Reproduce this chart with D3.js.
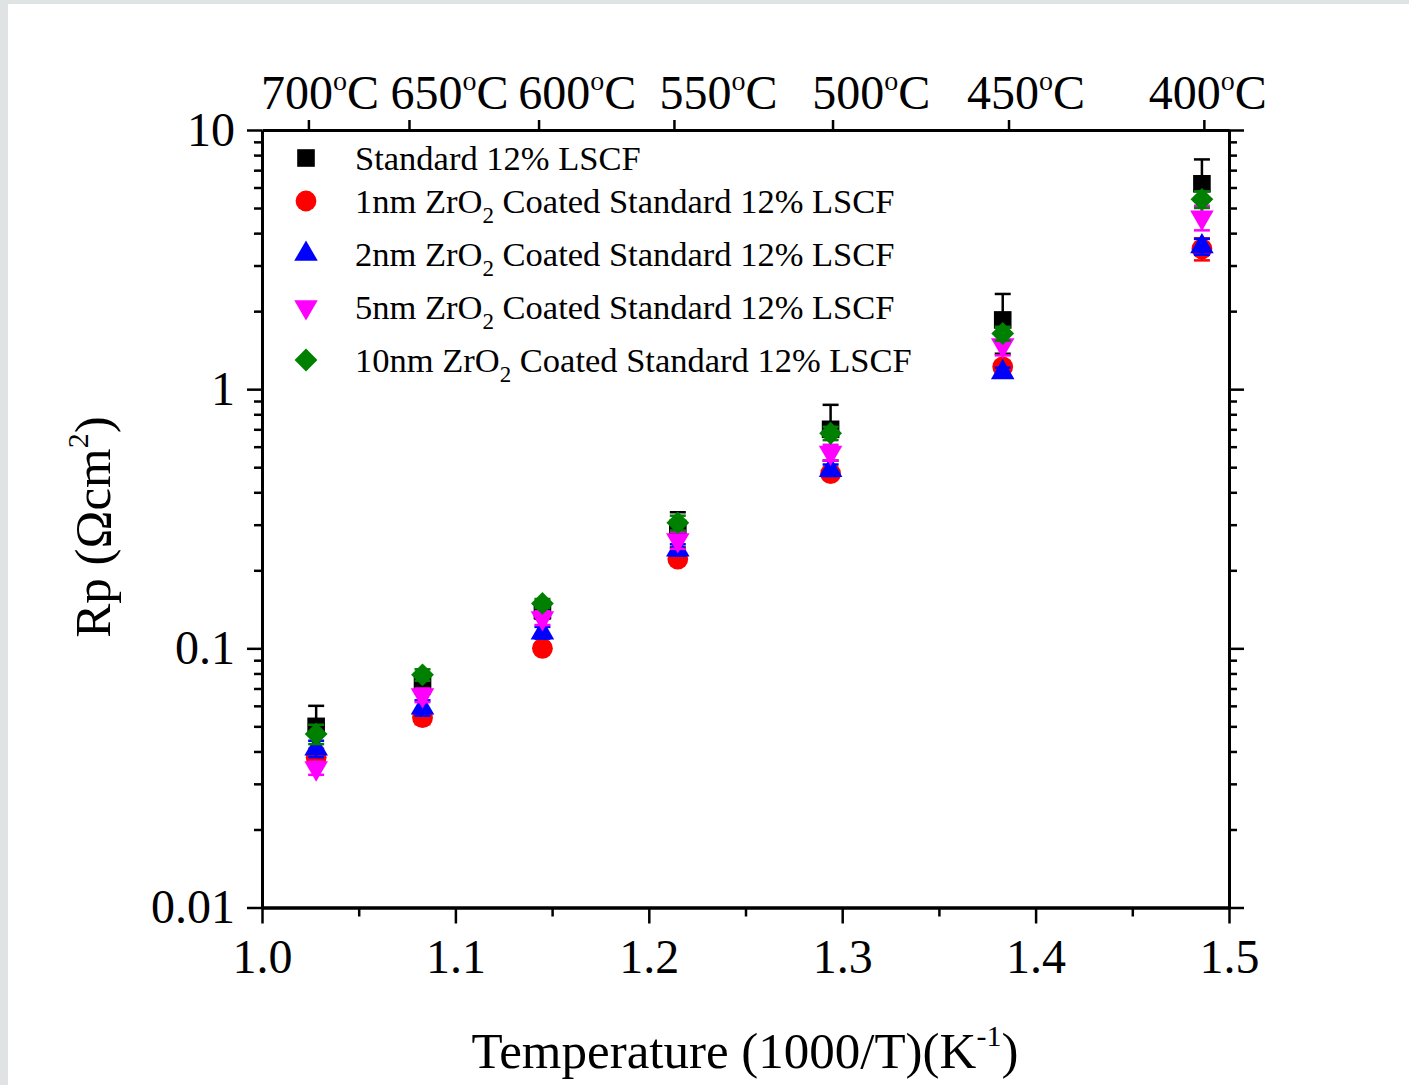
<!DOCTYPE html>
<html lang="en">
<head>
    <meta charset="UTF-8">
    <title>Rp vs temperature</title>
    <script src="https://cdn.jsdelivr.net/npm/d3@7"></script>
    <style>
        body {
            margin: 0;
            background: #dfe3e3;
        }

        svg {
            display: block;
        }

        text {
            font-family: "Liberation Serif", "Times New Roman", serif;
            fill: #000;
        }

        .axis path, .axis line {
            stroke: #000;
        }

        .axis path {
            stroke-width: 3px;
        }

        .axis line {
            stroke-width: 2.5px;
        }

        .axis text {
            font-family: "Liberation Serif", serif;
            font-size: 48px;
        }
    </style>
</head>
<body>
<svg width="1409" height="1085"></svg>

<script>
    // temperatures and their 1000/T positions
    var temps = [700, 650, 600, 550, 500, 450, 400];
    var invT = [1.028, 1.083, 1.145, 1.215, 1.294, 1.383, 1.486];

    // top axis: tick positions and label positions (1000/T units) as drawn in the figure
    var topTicks = [1.024, 1.076, 1.143, 1.213, 1.295, 1.386, 1.487];
    var topLabelAt = [1.030, 1.097, 1.163, 1.236, 1.315, 1.395, 1.489];

    var xTicks = [1.0, 1.1, 1.2, 1.3, 1.4, 1.5];
    var xMinor = [1.05, 1.15, 1.25, 1.35, 1.45];
    var yTicks = [0.01, 0.1, 1, 10];
    var yTickLabels = ['0.01', '0.1', '1', '10'];

    // Rp (ohm cm2) and error per series
    var standard = [0.050, 0.073, 0.140, 0.290, 0.700, 1.85, 6.2];
    var standardErr = [0.010, 0.006, 0.010, 0.045, 0.170, 0.48, 1.5];
    var zr1 = [0.038, 0.054, 0.100, 0.221, 0.472, 1.22, 3.48];
    var zr1Err = [0.003, 0.003, 0.004, 0.008, 0.020, 0.06, 0.34];
    var zr2 = [0.041, 0.059, 0.115, 0.240, 0.487, 1.16, 3.55];
    var zr2Err = [0.003, 0.004, 0.006, 0.012, 0.025, 0.05, 0.25];
    var zr5 = [0.0345, 0.066, 0.131, 0.262, 0.570, 1.48, 4.6];
    var zr5Err = [0.002, 0.004, 0.008, 0.020, 0.040, 0.13, 0.5];
    var zr10 = [0.0467, 0.079, 0.149, 0.305, 0.676, 1.64, 5.4];
    var zr10Err = [0.004, 0.004, 0.006, 0.020, 0.040, 0.10, 0.4];

    var seriesNames = [
        ['Standard 12% LSCF'],
        ['1nm ZrO', '2', ' Coated Standard 12% LSCF'],
        ['2nm ZrO', '2', ' Coated Standard 12% LSCF'],
        ['5nm ZrO', '2', ' Coated Standard 12% LSCF'],
        ['10nm ZrO', '2', ' Coated Standard 12% LSCF']
    ];
    var seriesColors = ['#000000', '#ff0000', '#0000ff', '#ff00ff', '#008000'];

    var series = [
        {values: standard, err: standardErr, shape: 'square'},
        {values: zr1, err: zr1Err, shape: 'circle'},
        {values: zr2, err: zr2Err, shape: 'up'},
        {values: zr5, err: zr5Err, shape: 'down'},
        {values: zr10, err: zr10Err, shape: 'diamond'}
    ];

    var svg = d3.select('svg');

    // page: white sheet with a grey strip on the left and top
    svg.append('rect')
        .attr('x', 8).attr('y', 4)
        .attr('width', 1401).attr('height', 1081)
        .attr('fill', '#ffffff');

    var plotLeft = 262, plotRight = 1229, plotTop = 130, plotBottom = 907.5;

    var x = d3.scaleLinear().domain([1.0, 1.5]).range([plotLeft, plotRight]);
    var y = d3.scaleLog().domain([0.01, 10]).range([plotBottom, plotTop]);

    var yMinor = [];
    [0.01, 0.1, 1].forEach(function (d) {
        for (var k = 2; k <= 9; k++) {
            yMinor.push(d * k);
        }
    });

    function noLabel() {
        return '';
    }

    // bottom axis
    svg.append('g').attr('class', 'axis')
        .attr('transform', 'translate(0,' + plotBottom + ')')
        .call(d3.axisBottom(x).tickValues(xMinor).tickSize(9).tickSizeOuter(0).tickFormat(noLabel));
    svg.append('g').attr('class', 'axis')
        .attr('transform', 'translate(0,' + plotBottom + ')')
        .call(d3.axisBottom(x).tickValues(xTicks).tickSize(16).tickSizeOuter(0).tickPadding(15)
            .tickFormat(d3.format('.1f')));

    // top axis (temperature)
    svg.append('g').attr('class', 'axis')
        .attr('transform', 'translate(0,' + plotTop + ')')
        .call(d3.axisTop(x).tickValues(topTicks).tickSize(10).tickSizeOuter(0).tickFormat(noLabel));

    var topLabels = svg.append('g')
        .selectAll('text')
        .data(temps)
        .enter()
        .append('text')
        .attr('x', function (d, i) {
            return x(topLabelAt[i]);
        })
        .attr('y', 109)
        .attr('text-anchor', 'middle')
        .style('font-size', '48px');
    topLabels.append('tspan').text(function (d) {
        return d;
    });
    topLabels.append('tspan').attr('dy', -19).style('font-size', '28px').text('o');
    topLabels.append('tspan').attr('dy', 19).text('C');

    // left axis
    svg.append('g').attr('class', 'axis')
        .attr('transform', 'translate(' + plotLeft + ',0)')
        .call(d3.axisLeft(y).tickValues(yMinor).tickSize(8).tickSizeOuter(0).tickFormat(noLabel));
    svg.append('g').attr('class', 'axis')
        .attr('transform', 'translate(' + plotLeft + ',0)')
        .call(d3.axisLeft(y).tickValues(yTicks).tickSize(15).tickSizeOuter(0).tickPadding(12)
            .tickFormat(function (d, i) {
                return yTickLabels[i];
            }));

    // right axis
    svg.append('g').attr('class', 'axis')
        .attr('transform', 'translate(' + plotRight + ',0)')
        .call(d3.axisRight(y).tickValues(yMinor).tickSize(8).tickSizeOuter(0).tickFormat(noLabel));
    svg.append('g').attr('class', 'axis')
        .attr('transform', 'translate(' + plotRight + ',0)')
        .call(d3.axisRight(y).tickValues(yTicks).tickSize(15).tickSizeOuter(0).tickFormat(noLabel));

    // symbols
    function symbolPath(shape) {
        if (shape === 'square') return d3.symbol().type(d3.symbolSquare).size(310)();
        if (shape === 'circle') return d3.symbol().type(d3.symbolCircle).size(340)();
        if (shape === 'diamond') return d3.symbol().type(d3.symbolSquare).size(260)();
        return d3.symbol().type(d3.symbolTriangle).size(240)();
    }

    function symbolRotate(shape) {
        if (shape === 'diamond') return 45;
        if (shape === 'down') return 180;
        return 0;
    }

    var plot = svg.append('g');

    series.forEach(function (s, si) {
        var color = seriesColors[si];
        var g = plot.append('g');
        var pts = s.values.map(function (v, i) {
            return {x: invT[i], v: v, e: s.err[i]};
        });

        var eb = g.selectAll('.err').data(pts).enter().append('g')
            .attr('stroke', color)
            .attr('stroke-width', 2.5);
        eb.append('line')
            .attr('x1', function (d) { return x(d.x); })
            .attr('x2', function (d) { return x(d.x); })
            .attr('y1', function (d) { return y(d.v - d.e); })
            .attr('y2', function (d) { return y(d.v + d.e); });
        eb.append('line')
            .attr('x1', function (d) { return x(d.x) - 8; })
            .attr('x2', function (d) { return x(d.x) + 8; })
            .attr('y1', function (d) { return y(d.v + d.e); })
            .attr('y2', function (d) { return y(d.v + d.e); });
        eb.append('line')
            .attr('x1', function (d) { return x(d.x) - 8; })
            .attr('x2', function (d) { return x(d.x) + 8; })
            .attr('y1', function (d) { return y(d.v - d.e); })
            .attr('y2', function (d) { return y(d.v - d.e); });

        g.selectAll('.pt').data(pts).enter().append('path')
            .attr('d', symbolPath(s.shape))
            .attr('fill', color)
            .attr('transform', function (d) {
                return 'translate(' + x(d.x) + ',' + y(d.v) + ') rotate(' + symbolRotate(s.shape) + ')';
            });
    });

    // legend
    var legend = svg.append('g');
    seriesNames.forEach(function (name, i) {
        var ly = 158 + i * 53 - (i > 0 ? 10 : 0);
        legend.append('path')
            .attr('d', symbolPath(series[i].shape))
            .attr('fill', seriesColors[i])
            .attr('transform', 'translate(306,' + ly + ') rotate(' + symbolRotate(series[i].shape) + ')');
        var t = legend.append('text')
            .attr('x', 355)
            .attr('y', ly + 12)
            .style('font-size', '34.5px');
        t.append('tspan').text(name[0]);
        if (name.length > 1) {
            t.append('tspan').attr('dy', 10).style('font-size', '23px').text(name[1]);
            t.append('tspan').attr('dy', -10).text(name[2]);
        }
    });

    // axis titles
    var xt = svg.append('text')
        .attr('x', 745)
        .attr('y', 1068)
        .attr('text-anchor', 'middle')
        .style('font-size', '51px');
    xt.append('tspan').text('Temperature (1000/T)(K');
    xt.append('tspan').attr('dy', -22).style('font-size', '30px').text('-1');
    xt.append('tspan').attr('dy', 22).text(')');

    var yt = svg.append('text')
        .attr('transform', 'translate(110,527) rotate(-90)')
        .attr('text-anchor', 'middle')
        .style('font-size', '51px');
    yt.append('tspan').text('Rp (\u03A9cm');
    yt.append('tspan').attr('dy', -22).style('font-size', '30px').text('2');
    yt.append('tspan').attr('dy', 22).text(')');
</script>
</body>
</html>
